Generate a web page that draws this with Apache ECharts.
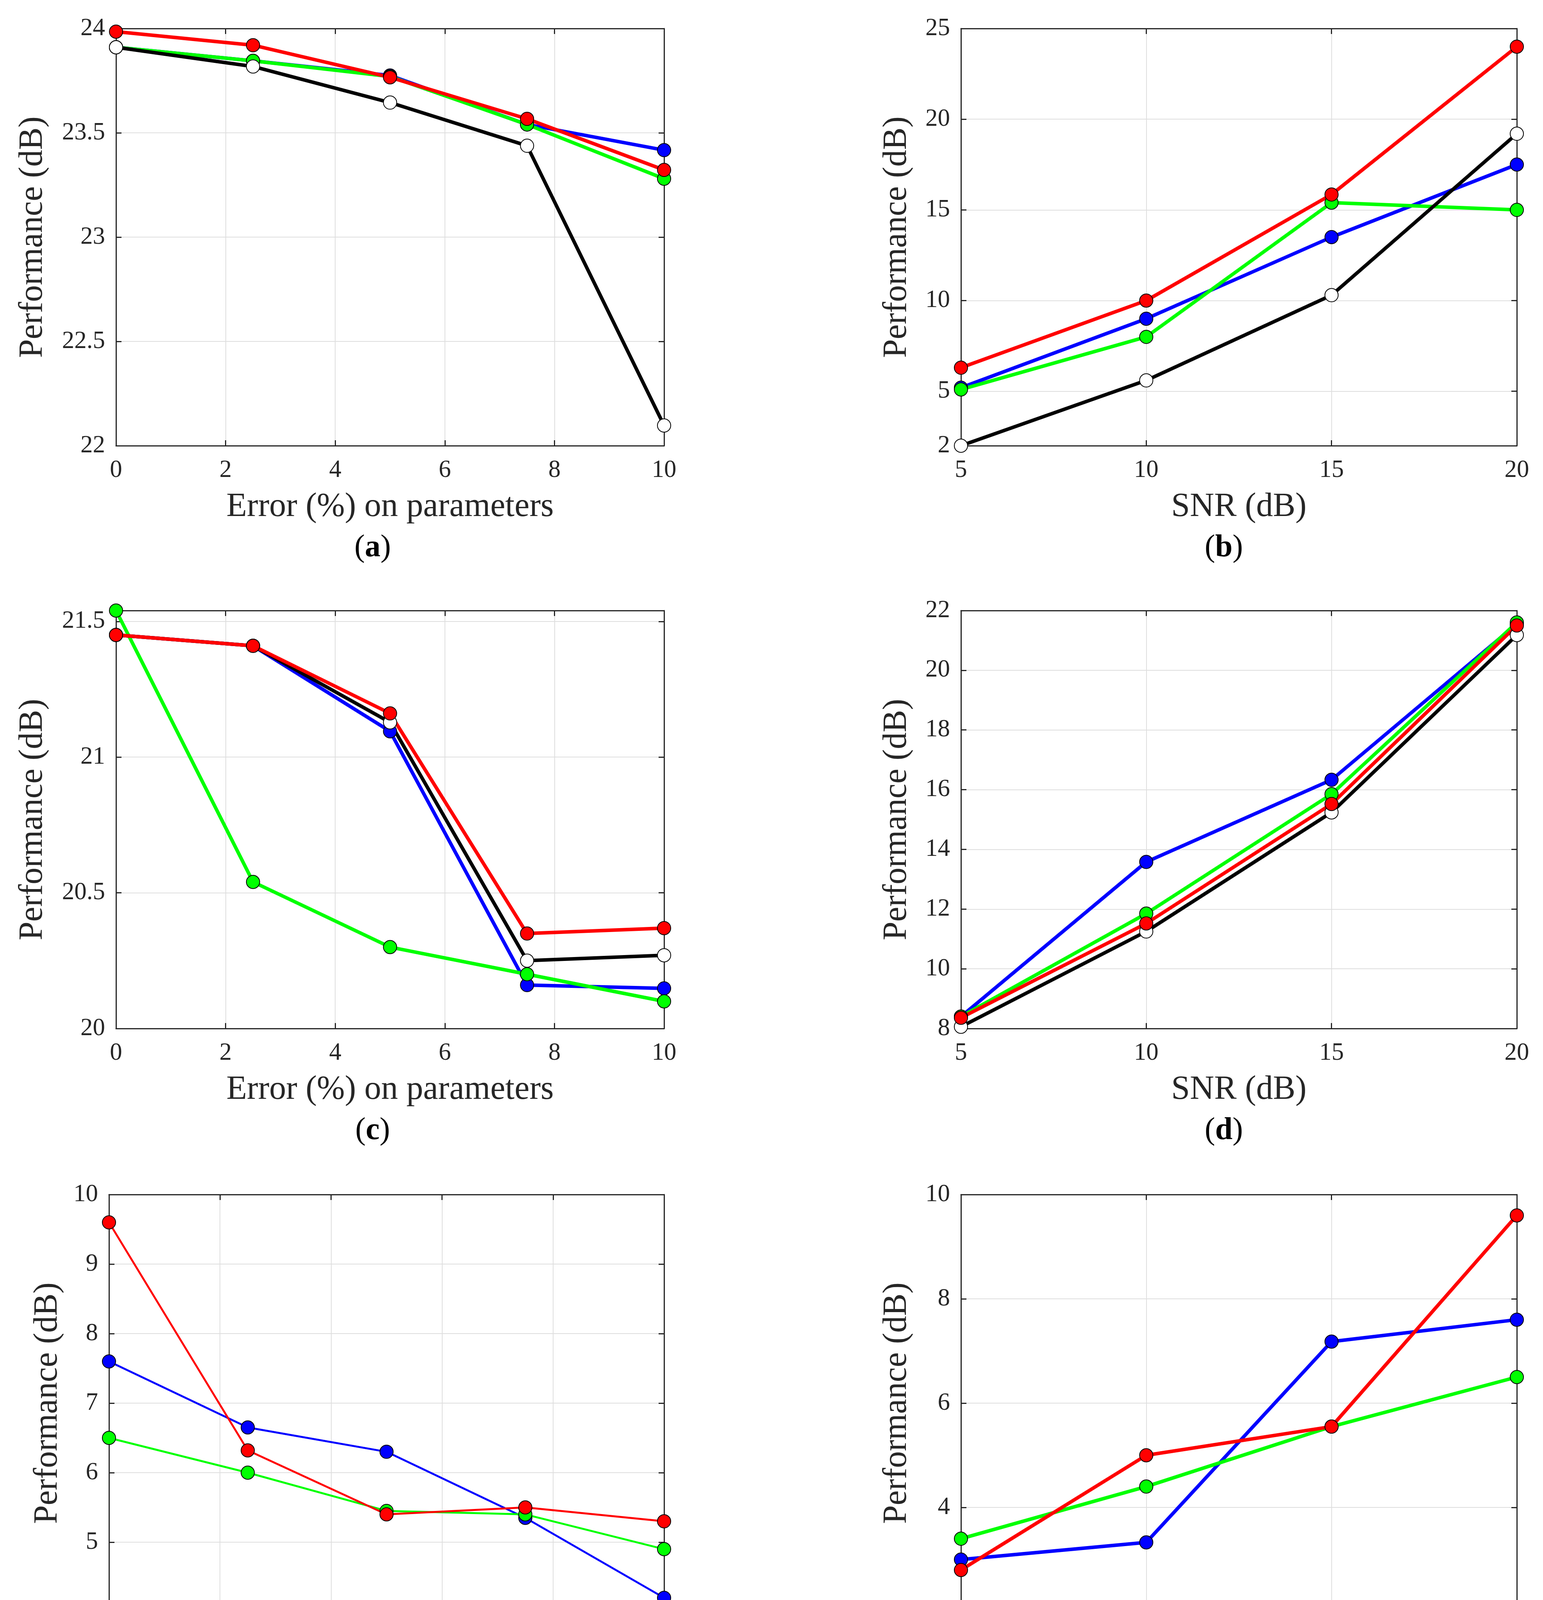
<!DOCTYPE html>
<html>
<head>
<meta charset="utf-8">
<title>Performance vs error and SNR</title>
<script src="https://cdn.jsdelivr.net/npm/echarts@6/dist/echarts.min.js"></script>
<style>
  html, body { margin: 0; padding: 0; background: #fff; }
  #main { width: 3950px; height: 4468px; }
</style>
</head>
<body>
<div id="main"></div>
<script>
// x values
var errX = [0, 2.5, 5, 7.5, 10]
var snrX = [5, 10, 15, 20]

// tick labels
var errTicks = [0, 2, 4, 6, 8, 10]
var snrTicks = [5, 10, 15, 20]
var aTicks = [22, 22.5, 23, 23.5, 24]
var bTicks = [2, 5, 10, 15, 20, 25]
var cTicks = [20, 20.5, 21, 21.5]
var dTicks = [8, 10, 12, 14, 16, 18, 20, 22]
var eTicks = [4, 5, 6, 7, 8, 9, 10]
var fTicks = [2, 4, 6, 8, 10]

// (a) error on parameters
var aBlue = [23.91, 23.845, 23.775, 23.54, 23.417]
var aGreen = [23.91, 23.845, 23.77, 23.54, 23.28]
var aBlack = [23.91, 23.818, 23.645, 23.438, 22.097]
var aRed = [23.985, 23.92, 23.766, 23.567, 23.322]

// (b) SNR
var bBlue = [5.2, 9.0, 13.5, 17.5]
var bGreen = [5.1, 8.0, 15.4, 15.0]
var bBlack = [2.0, 5.6, 10.3, 19.2]
var bRed = [6.3, 10.0, 15.85, 24.0]

// (c) error on parameters
var cBlue = [21.45, 21.41, 21.095, 20.16, 20.148]
var cGreen = [21.54, 20.54, 20.30, 20.20, 20.10]
var cBlack = [21.45, 21.41, 21.128, 20.25, 20.27]
var cRed = [21.45, 21.41, 21.161, 20.35, 20.37]

// (d) SNR
var dBlue = [8.4, 13.58, 16.33, 21.55]
var dGreen = [8.4, 11.85, 15.85, 21.6]
var dBlack = [8.06, 11.25, 15.24, 21.18]
var dRed = [8.36, 11.52, 15.52, 21.5]

// (e) error on parameters
var eBlue = [7.6, 6.65, 6.3, 5.35, 4.2]
var eGreen = [6.5, 6.0, 5.45, 5.4, 4.9]
var eRed = [9.6, 6.32, 5.4, 5.5, 5.3]

// (f) SNR
var fBlue = [3.0, 3.33, 7.18, 7.6]
var fGreen = [3.4, 4.4, 5.55, 6.5]
var fRed = [2.8, 5.0, 5.55, 9.6]

var FONT = 'Liberation Serif'
var INK = '#262626'

function pairs(xs, ys) {
  var out = []
  for (var i = 0; i < xs.length; i++) out.push([xs[i], ys[i]])
  return out
}

var panels = [
  {tag: 'a', left: 297, top: 73, w: 1403, h: 1068, xs: errX, xTicks: errTicks, xMin: 0, xMax: 10,
   yTicks: aTicks, yMin: 22, yMax: 24, xName: 'Error (%) on parameters', yGap: 170, lw: 9,
   lines: [[aBlue, '#0000ff'], [aGreen, '#00ff00'], [aBlack, '#000000'], [aRed, '#ff0000']], cap: [954, 1403]},
  {tag: 'b', left: 2460, top: 73, w: 1423, h: 1068, xs: snrX, xTicks: snrTicks, xMin: 5, xMax: 20,
   yTicks: bTicks, yMin: 2, yMax: 25, xName: 'SNR (dB)', yGap: 121, lw: 9,
   lines: [[bBlue, '#0000ff'], [bGreen, '#00ff00'], [bBlack, '#000000'], [bRed, '#ff0000']], cap: [3133, 1403]},
  {tag: 'c', left: 297, top: 1563, w: 1403, h: 1070, xs: errX, xTicks: errTicks, xMin: 0, xMax: 10,
   yTicks: cTicks, yMin: 20, yMax: 21.54, xName: 'Error (%) on parameters', yGap: 170, lw: 9,
   lines: [[cBlue, '#0000ff'], [cGreen, '#00ff00'], [cBlack, '#000000'], [cRed, '#ff0000']], cap: [954, 2895]},
  {tag: 'd', left: 2460, top: 1563, w: 1423, h: 1070, xs: snrX, xTicks: snrTicks, xMin: 5, xMax: 20,
   yTicks: dTicks, yMin: 8, yMax: 22, xName: 'SNR (dB)', yGap: 121, lw: 9,
   lines: [[dBlue, '#0000ff'], [dGreen, '#00ff00'], [dBlack, '#000000'], [dRed, '#ff0000']], cap: [3133, 2895]},
  {tag: 'e', left: 279, top: 3058, w: 1421, h: 1068, xs: errX, xTicks: errTicks, xMin: 0, xMax: 10,
   yTicks: eTicks, yMin: 4, yMax: 10, xName: 'Error (%) on parameters', yGap: 114, lw: 5,
   lines: [[eBlue, '#0000ff'], [eGreen, '#00ff00'], [eRed, '#ff0000']], cap: [954, 4388]},
  {tag: 'f', left: 2460, top: 3058, w: 1423, h: 1068, xs: snrX, xTicks: snrTicks, xMin: 5, xMax: 20,
   yTicks: fTicks, yMin: 2, yMax: 10, xName: 'SNR (dB)', yGap: 121, lw: 9,
   lines: [[fBlue, '#0000ff'], [fGreen, '#00ff00'], [fRed, '#ff0000']], cap: [3135, 4388]}
]

var grids = [], xAxes = [], yAxes = [], series = [], graphics = []

function axisBase(show) {
  return {
    axisLine: {show: true, onZero: false, lineStyle: {color: INK, width: 3}},
    axisTick: {show: true, inside: true, length: 14, lineStyle: {color: INK, width: 3}},
    axisLabel: {show: show, color: INK, fontFamily: FONT, fontSize: 63},
    splitLine: {show: false}
  }
}

panels.forEach(function (p, i) {
  grids.push({left: p.left, top: p.top, width: p.w, height: p.h, containLabel: false})

  // bottom / left axes carry the labels and grid lines
  var xb = axisBase(true)
  xb.type = 'value'; xb.gridIndex = i; xb.position = 'bottom'; xb.min = p.xMin; xb.max = p.xMax
  xb.axisTick.customValues = p.xTicks
  xb.axisLabel.customValues = p.xTicks
  xb.axisLabel.margin = 32
  xb.splitLine = {show: true, lineStyle: {color: '#dedede', width: 2}}
  xb.name = p.xName; xb.nameLocation = 'middle'; xb.nameGap = 114
  xb.nameTextStyle = {color: INK, fontFamily: FONT, fontSize: 86}
  xAxes.push(xb)

  var yl = axisBase(true)
  yl.type = 'value'; yl.gridIndex = i; yl.position = 'left'; yl.min = p.yMin; yl.max = p.yMax
  yl.axisTick.customValues = p.yTicks
  yl.axisLabel.customValues = p.yTicks
  yl.axisLabel.margin = 28
  yl.splitLine = {show: true, lineStyle: {color: '#dedede', width: 2}}
  yl.name = 'Performance (dB)'; yl.nameLocation = 'middle'; yl.nameGap = p.yGap
  yl.nameTextStyle = {color: INK, fontFamily: FONT, fontSize: 86}
  yAxes.push(yl)

  // top / right axes only close the box and repeat the inner ticks
  var xt = axisBase(false)
  xt.type = 'value'; xt.gridIndex = i; xt.position = 'top'; xt.min = p.xMin; xt.max = p.xMax
  xt.axisTick.customValues = p.xTicks
  xAxes.push(xt)

  var yr = axisBase(false)
  yr.type = 'value'; yr.gridIndex = i; yr.position = 'right'; yr.min = p.yMin; yr.max = p.yMax
  yr.axisTick.customValues = p.yTicks
  yAxes.push(yr)

  p.lines.forEach(function (ln) {
    var col = ln[1]
    series.push({
      type: 'line',
      xAxisIndex: i * 2,
      yAxisIndex: i * 2,
      data: pairs(p.xs, ln[0]),
      symbol: 'circle',
      symbolSize: 34,
      clip: false,
      lineStyle: {color: col, width: p.lw},
      itemStyle: {color: col == '#000000' ? '#ffffff' : col, borderColor: '#000', borderWidth: 2},
      emphasis: {disabled: true}
    })
  })

  // sub-figure caption, letter in bold
  graphics.push({
    type: 'text',
    x: p.cap[0],
    y: p.cap[1],
    style: {
      text: '({b|' + p.tag + '})',
      fill: '#000',
      fontFamily: FONT,
      fontSize: 80,
      align: 'center',
      verticalAlign: 'middle',
      rich: {b: {fontFamily: FONT, fontSize: 80, fontWeight: 'bold', fill: '#000'}}
    }
  })
})

var myChart = echarts.init(document.getElementById('main'), null, {renderer: 'canvas'})
myChart.setOption({
  animation: false,
  backgroundColor: '#ffffff',
  grid: grids,
  xAxis: xAxes,
  yAxis: yAxes,
  series: series,
  graphic: graphics
})
</script>
</body>
</html>
